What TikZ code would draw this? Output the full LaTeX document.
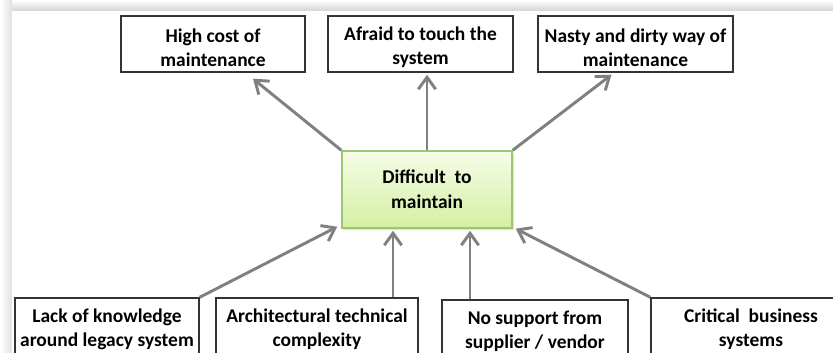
\documentclass[tikz,border=0pt]{standalone}
\usepackage{fontspec}
\setmainfont{Carlito}
\usetikzlibrary{positioning,calc,arrows.meta,shadows}
\definecolor{arrowgray}{RGB}{128,128,128}
\definecolor{greentop}{RGB}{246,253,232}
\definecolor{greenbot}{RGB}{212,239,163}
\definecolor{greenline}{RGB}{155,200,106}
\newcommand{\lowr}{\rule{0pt}{15.5pt}}
\tikzset{>={Straight Barb[length=9pt,width=13pt]}}
\tikzset{
  effect/.style={draw=black!80,line width=1.1pt,fill=white,align=center,
    font=\bfseries\fontsize{14.6pt}{18pt}\selectfont,minimum height=42pt,inner sep=1pt},
  problem/.style={effect,draw=greenline,top color=greentop,bottom color=greenbot,
    minimum height=57.75pt,drop shadow={opacity=0.25,shadow xshift=1.2pt,shadow yshift=-1.5pt}},
  flow/.style={->,draw=arrowgray,line width=2.2pt}
}

\begin{document}
\begin{tikzpicture}[x=0.75pt,y=-0.75pt]
\useasboundingbox (0,0) rectangle (833,353);
\clip (0,0) rectangle (833,353);
% page frame
\fill[top color=white,bottom color=black!17] (0,0) rectangle (833,11);
\fill[left color=white,right color=black!12] (0,0) rectangle (12,353);
\fill[white] (12,11) rectangle (833,353);
% effects
\node[effect,minimum width=138pt] (cost) at (213,44) {\lowr High cost of\\maintenance};
\node[effect,minimum width=138.75pt] (touch) at (420.5,44) {\lowr Afraid to touch the\\system};
\node[effect,minimum width=146.25pt] (nasty) at (635.5,44) {\lowr Nasty and dirty way of\\maintenance};
% problem
\node[problem,minimum width=127.5pt,font=\bfseries\fontsize{14.6pt}{19pt}\selectfont] (diff) at (427,189.5) {Difficult\ \ to\\maintain};
% causes
\node[effect,minimum width=138pt] (lack) at (107,326) {\lowr Lack of knowledge\\around legacy system};
\node[effect,minimum width=151.5pt] (arch) at (317,326) {\lowr Architectural technical\\complexity};
\node[effect,minimum width=139.5pt] (supp) at (535,328) {\lowr No support from\\supplier / vendor};
\node[effect,minimum width=150pt] (crit) at (751,326) {\lowr Critical\ \ business\\systems};
% arrows up
\draw[flow] (diff.north west) -- ($(cost.south)+(40,6)$);
\draw[flow] (diff.north) -- ($(diff.north |- touch.south)+(0,2)$);
\draw[flow] (diff.north east) -- ($(nasty.south)+(-24,2)$);
% arrows in
\coordinate (a5) at ($(arch.north)+(76,0)$);
\coordinate (a6) at ($(supp.north)+(-65,0)$);
\draw[flow] (lack.north east) -- ($(diff.south west)+(-4,-2)$);
\draw[flow] (a5) -- ($(a5 |- diff.south)+(0,2)$);
\draw[flow] (a6) -- ($(a6 |- diff.south)+(0,2)$);
\draw[flow] (crit.north west) -- ($(diff.south east)+(3,0)$);
\end{tikzpicture}
\end{document}
